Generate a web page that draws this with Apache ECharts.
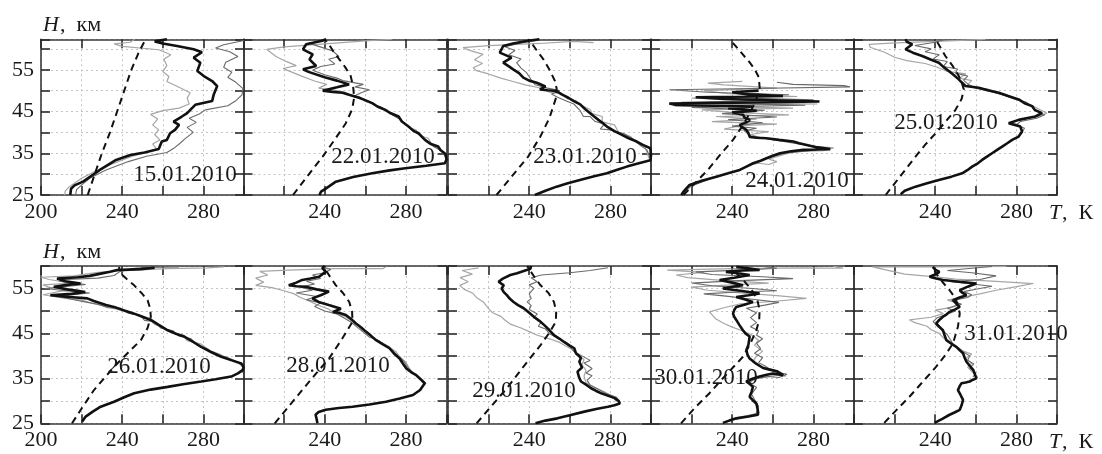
<!DOCTYPE html>
<html><head><meta charset="utf-8">
<script src="https://cdn.jsdelivr.net/npm/echarts@6/dist/echarts.min.js"></script>
<style>html,body{margin:0;padding:0;background:#fff}#c{width:1102px;height:454px}</style>
</head><body><div id="c"></div>
<script>
// ---------- data: [T (K), H (km)] ----------
const dates = ['15.01.2010','22.01.2010','23.01.2010','24.01.2010','25.01.2010','26.01.2010','28.01.2010','29.01.2010','30.01.2010','31.01.2010'];
const xTickLabels = [240, 280];
const xTickLabelsFirst = [200, 240, 280];
const yTickLabels = [25, 35, 45, 55];

// 15.01
const m15 = [[223,25],[226.5,30],[230,35],[234,40],[237.5,45],[241,50],[244.5,55],[248,59],[251.5,62.3]];
const b15 = [[214.4,25],[214.8,26.5],[216.5,27.3],[220.7,28.2],[229,31],[237,33.4],[244,34.6],[251,35.2],[258,36],[259.5,37.8],[262,38.2],[263.6,39.8],[266,40.6],[268,41.8],[265.3,42.6],[269.4,43.8],[272,44.6],[274.4,45.8],[276,46.6],[284.3,47.5],[285.1,49.1],[286.8,51.1],[284.3,52.3],[280.2,53.5],[277,54.7],[278.5,56.7],[275.2,57.9],[279.3,59.2],[275.2,59.9],[267,60.7],[260,61.3],[256,61.8],[262,62.3]];
const g15a = [[211.6,25],[212,26],[214,27],[220,29],[228,31],[236,32.6],[245,34.3],[252,35.2],[257,36],[255,37.2],[258.5,38.2],[256,39.5],[258,40.6],[255,41.8],[257.5,43.2],[254,44.3],[260,45.2],[268,45.8],[273,46.8],[272,48.2],[273.5,49.5],[268,50.8],[262,52.2],[263,53.4],[260,54.6],[262,56],[260.5,57.5],[264,58.6],[258,59.8],[240,60.6],[236,61.2],[244,61.6],[246,62.3]];
const g15b = [[217,25],[217.5,26.3],[219.5,27.2],[224,29],[232,31],[243,33],[252,34.3],[262,35.2],[266,36.4],[268.5,37.4],[271,38.5],[275,40],[272,41.2],[276.5,42.4],[273,43.4],[278,44.4],[281,45.4],[292,46.4],[296,47.6],[299,49],[299.5,50.5],[296,52],[292,53.2],[294,54.4],[290,55.6],[291,56.8],[297,58.2],[293,59.3],[286,60.2],[290,61],[300,62]];
// 22.01
const m22 = [[224.4,25],[231.5,29.5],[239,34.2],[245,38.3],[250.4,42.2],[253.5,45.5],[254.5,48.3],[254,51],[252.8,53.5],[250,55.7],[247.2,57.5],[244,59.6],[241.5,61.5],[240,62.3]];
const b22 = [[237.4,25],[238.2,25.8],[240.7,26.6],[245.5,28.2],[254,29.3],[263.4,30.2],[272,30.9],[279.7,31.4],[290,32],[299.2,32.6],[300,33.5],[299.5,34.8],[297,35.8],[295.9,36.6],[292,37.3],[289.4,38.2],[286.2,39.8],[284,40.3],[281.3,41.4],[278,42.6],[276.4,43.8],[272,44.7],[269.9,45.4],[266,46.2],[263.4,47],[259,47.9],[256.9,48.3],[252,49],[248.8,49.5],[244,49.7],[239,50],[246,50.8],[252,51.5],[246,52.4],[240,53.2],[232,54.5],[229.3,55.1],[235.8,55.9],[232.5,57.5],[234.1,58.7],[229.3,59.9],[230.9,61.1],[238.2,61.9],[240.7,62.3]];
const g22a = [[299,34.5],[296,36.4],[293,37],[291,38.6],[287,39.2],[285,40.6],[282,41],[279,42.4],[277,43.2],[273,44.4],[270,45.2],[267,45.8],[264,46.8],[260,47.4],[257,48.6],[253,48.8],[250,49.6],[244,50.2],[237,50.6],[241,51.5],[235,52.3],[228,53.6],[222,54.8],[219.5,55.3],[226,56],[221,57],[216,58.2],[211.4,59.9],[220,60.5],[240,61.2],[260,61.9],[273,62.3]];
const g22b = [[300,33.8],[297.5,35.6],[294,36.5],[290.5,37.8],[288,39],[283.5,40.4],[280,41.8],[277.5,43],[274,44],[271,45],[268,46],[265,46.4],[262,47.4],[258,48.2],[254,48.6],[258,49.5],[262,50.2],[255,50.9],[259,51.5],[249,52.4],[246,53],[240,53.8],[234,54.9],[238,55.8],[245,56.4],[242,57.5],[247,58.2],[244,59.5],[237,60.6],[232,61.4],[245,62.2]];
// 23.01
const m23 = [[223.9,25],[231.5,29.5],[239.5,34.2],[245.5,39],[250,43.5],[253.5,48.7],[253.5,50.5],[252.7,52.3],[250,55],[247,57.5],[243.5,59.8],[240.4,61.9],[239.5,62.3]];
const b23 = [[242.8,25],[248,26],[253.5,27],[259,27.8],[265,28.6],[272,29.5],[278.3,30.2],[283,31],[288.1,31.8],[294,32.6],[299.7,33.3],[300,34.5],[299.7,36.2],[296,37],[293,37.8],[289,38.6],[285.7,39.4],[282,40.3],[278.3,41.4],[276,42.3],[274.1,43],[272,43.8],[270,44.6],[267.5,45.6],[265.1,46.7],[262,47.5],[259.3,48.3],[256,49.1],[253.5,49.9],[249,50.1],[245.3,50.3],[248,51],[243.7,51.9],[240,52.4],[237.1,53.1],[235,54.2],[232.1,55.1],[230,55.8],[227.2,56.7],[231.3,57.9],[225.5,59.1],[227.2,60.7],[232,61.3],[238.7,61.9],[245,62.3]];
const g23a = [[299,33.8],[297,36.6],[293,37.5],[290,39],[284,40.1],[282,41.8],[276,42.5],[276,43.8],[271,44.5],[270,45.5],[266,46.4],[263,47.6],[259,48],[256,49.3],[250,49.6],[245,50.7],[238,51.4],[232,52.2],[226,53],[220,54],[214,54.8],[212.4,55.5],[217,56.5],[213,57.4],[217.3,58.7],[211,59.6],[207.4,60.3],[220,60.8],[245,61.3],[262,61.8],[271.7,61.5]];
const g23b = [[300,33.5],[298,35.8],[295,36.8],[291,38.4],[287,39.6],[280,40.6],[275,40.8],[277,42],[272.5,42.6],[270,43.8],[266.7,43.8],[265,45.3],[262,46.8],[258,47.6],[254,48.4],[251,49.2],[255,50],[249,50.6],[243,51.4],[241,52.6],[238.7,54.3],[236,55.4],[233.8,56.7],[236,57.6],[230,58.6],[233,59.6],[228,60.5],[236,61.4],[244,62]];
// 24.01
const m24 = [[216,25],[222,28],[228,31],[234,34.6],[240.4,38.2],[245,41.5],[248.7,44.6],[251.5,47.5],[253.6,50.3],[253.3,52],[252.8,53.5],[251,55.2],[248.7,56.7],[245,58.8],[241.5,60.8],[238.8,62.3]];
const b24 = [[214.9,25],[216,25.8],[219,27.4],[225,28.4],[232.2,29.4],[238,30.2],[243.7,31],[247,31.8],[250.3,32.6],[254,33.2],[256.9,33.8],[260,34.4],[263.5,35],[269,35.5],[275.1,35.8],[282,35.9],[288.3,36],[282,36.4],[276.7,37],[273,37.4],[270.1,37.8],[263,38.2],[256.9,38.6],[252,38.7],[248.7,38.9],[248,39.8],[247,40.6],[245,41.2],[243.7,41.8],[247,42.4],[248.7,43],[246,43.6],[245.4,44.2],[240,44.8],[252,45.2],[238,45.8],[250,46.2],[212,46.6],[209,46.9],[240,47.1],[283,47.4],[260,47.7],[236,48],[222,48.4],[265,48.7],[248,49.1],[240,49.6],[253,50]];
const g24a = [[216,25.3],[220,27.2],[230,29.2],[242,30.8],[249,32.2],[253,32.6],[258,32.3],[262,33],[258,33.6],[262,34.2],[270,35.4],[285,35.6],[290,36.3],[278,36.8],[268,38],[255,38.6],[249,39.5],[258,40.2],[236,40.8],[244,41.6],[262,42],[230,42.6],[252,43.2],[232,43.8],[268,44.2],[240,44.8],[225,45.4],[270,45.8],[211,46.4],[282,46.8],[228,47.2],[260,47.6],[220,48.2],[272,48.6],[238,49.3],[226,50],[262,50.6],[236,51.4],[228,51.8],[245,52.2]];
const g24b = [[215,25],[219,27],[230,29],[244,31],[250,32.5],[258,34],[266,35],[278,35.6],[286,36.2],[272,37.3],[258,38.4],[249,39.2],[246,40.4],[252,41],[240,41.5],[255,42.3],[238,43.1],[262,43.7],[235,44.5],[256,45.3],[220,46],[276,46.5],[215,47.2],[280,47.8],[230,48.4],[268,49],[228,49.6],[209,50.2],[250,50.5],[298,50.9],[295,51.2],[270,51.5],[262,52]];
// 25.01
const m25 = [[215.6,25],[222,29],[230.3,34.2],[235,37],[240.2,39.8],[245,42.5],[250,45.4],[253,48],[254.1,50.3],[253,52],[251.6,53.5],[248.5,56],[245,58.3],[242.5,60.4],[240.2,62.3]];
const b25 = [[223,25.2],[225,26],[230.3,27],[236,27.8],[241.8,28.6],[248,29.4],[253.3,30.2],[256,31],[258.2,31.8],[261,32.6],[263.1,33.4],[265.5,34.2],[268,35],[270.5,35.8],[273,36.6],[275.5,37.4],[277.9,38.2],[281.1,39],[282.8,40.2],[281.9,41.4],[276.2,42.2],[281.1,43],[289.3,43.8],[292.6,44.6],[289,45.4],[287.7,46.3],[284,47],[281.1,47.9],[276,48.7],[271.3,49.5],[266,50.1],[261.5,50.7],[254.9,51.1],[253,52],[251.6,52.7],[249,53.8],[246.7,54.7],[244,55.7],[241.8,56.7],[238,57.4],[233.6,58.3],[229,59.1],[225.4,59.9],[228.7,61.1],[226,61.7],[225.4,62.3]];
const g25a = [[283,40],[282,41.6],[278,42.4],[283,43.2],[291,43.8],[295,44.6],[291,45.6],[287,46.6],[282,47.6],[277,48.5],[272,49.2],[266,50.4],[258,50.8],[256,51.5],[258,52.4],[252,53],[255,54],[246,54.6],[241,55.6],[235,56.5],[226,57.2],[220,58],[215,59.2],[208,60.4],[207.4,61.1],[218,61.4],[240,61.8],[264.8,62.3]];
const g25b = [[282,39.5],[284,41],[280,41.8],[282,42.6],[290,43.4],[294,44.2],[290,45],[288,46],[285,47.2],[279,48],[273,49],[267,49.8],[260,50.6],[256,51.6],[254,52.5],[256,53.5],[250,54.2],[251,55.2],[244,55.8],[246,57],[239,57.6],[242,58.6],[235,59.3],[238,60],[230,60.8],[240,61.6],[245,62.3]];
// 26.01
const m26 = [[215.3,25],[220,28.3],[226.1,32.4],[232,35.5],[237.6,38.3],[243.5,41],[249.2,43.5],[252.5,46.2],[254.1,48.7],[253.8,50.5],[252.5,52.4],[249.5,54],[245.9,55.7],[242,57.2],[239.3,58.3],[238.4,59.8]];
const b26 = [[220.3,25.4],[222,26.5],[225.5,27.6],[229.4,28.7],[236,29.8],[241,30.8],[245.9,31.7],[254,32.5],[262.4,33.1],[270,33.7],[278.9,34.3],[286,34.8],[293.7,35.4],[297,36.1],[299.5,36.9],[299.8,37.6],[298.7,38.3],[294,39],[288.8,39.8],[284,40.8],[278.9,42],[274.6,43.2],[270.6,44.3],[266,45],[262.4,45.7],[258,46.9],[254.1,48],[250,48.7],[245.9,49.4],[241,50.1],[236,50.9],[232,51.3],[229.4,51.7],[226,52.2],[222.8,52.8],[214,53.1],[204.6,53.5],[215,53.8],[221.8,54.2],[213,54.8],[206.3,55.4],[213,55.8],[219.5,56.1],[212,56.6],[207.9,57.2],[218,57.5],[224,57.8],[229.4,58.3],[234,58.7],[237.6,59.1],[243,59.2],[249.2,59.3],[256,59.6]];
const g26a = [[298,36.4],[299.5,37.4],[297,38.6],[292,39.3],[288,40.4],[283,41.2],[279,42.6],[272,43.4],[270,44.6],[264,45.2],[261,46.2],[256,47],[253,48.2],[248,48.9],[244,49.8],[238,50.3],[232,51],[226,51.6],[220,52.4],[212,52.8],[201,53.6],[210,54.4],[219,54.6],[205,55.1],[201,55.8],[215,56.2],[204,57],[200,57.5],[216,57.8],[228,58.6],[246,59.1],[262,59.4],[282,59.6],[290,59.8]];
const g26b = [[299,36.2],[300,37.8],[296,38.8],[291,39.8],[286,40.2],[282,41.6],[277,42.4],[274,43.8],[268,44.4],[265,45.6],[259,46.2],[256,47.6],[251,47.9],[249,49],[243,49.5],[239,50.6],[233,50.7],[228,51.5],[223,51.9],[215,52.6],[208,53.3],[218,53.7],[224,54],[210,54.6],[202,55],[216,55.6],[222,55.9],[209,56.6],[212,57],[228,57.3],[236,57.9],[239,58.8],[246,59.5],[252,59.7],[268,59.8]];
// 28.01
const m28 = [[215.4,25],[222,28.6],[228.9,32.4],[236,36.2],[242.1,39.4],[248,43.4],[253.7,47.6],[253.5,49.8],[252.1,52],[249,54],[245.5,55.7],[242.8,57.5],[240.5,59.1],[240,59.9]];
const b28 = [[236.4,25],[236,26],[235.5,26.9],[237,27.5],[240.5,28],[247,28.4],[253.7,28.7],[262,29.2],[270.2,29.8],[277,30.5],[283.5,31.3],[287,32.4],[289.3,33.9],[287,34.9],[285.1,35.7],[282.5,36.4],[280.2,37.2],[278.5,38.3],[276.9,39.4],[274,40.6],[271.9,41.7],[268.5,42.6],[265.3,43.5],[263,44.4],[260.3,45.4],[258,46.3],[255.4,47.2],[253,48.2],[250.4,49.1],[247,49.6],[244,49.8],[248,50.5],[242,51.3],[237,52],[233.9,52.8],[238,53.5],[242.1,54.3],[236,54.8],[230.6,55.4],[226,55.5],[222.3,55.7],[226,56.3],[228.9,56.9],[233,57.2],[237.2,57.6],[240.5,58.7],[238.8,59.6],[240,60]];
const g28a = [[289,33.6],[287,35],[284,36],[282,37],[280,38.6],[277,39.8],[275,41],[271,42.2],[268,43],[264,44],[261,45],[258,46],[256,47],[253,47.9],[250,48.8],[245,49.5],[242,50.4],[237,51.2],[232,52.3],[228,53],[225,53.8],[220,54.5],[214,55.2],[206,55.7],[210,56.4],[206,57.3],[212,58],[208,58.8],[222,59.1],[245,59.4],[268.6,59.4],[270,59.8]];
const g28b = [[290,33.8],[286,35.3],[283.5,36.2],[281,37.4],[279,38.8],[276,40],[273,41.4],[270,42.2],[267,43.3],[262,44.2],[259,45.3],[256,46.4],[253,47.5],[250,48.3],[246,49.3],[240,50],[235,51],[238,51.8],[231,52.5],[236,53.2],[226,54],[234,54.6],[228,55.3],[235,56],[231,56.6],[238,57.2],[234,58],[240,58.5],[243,59.2],[238,60]];
// 29.01
const m29 = [[214.1,25],[221.5,28.9],[229,32.8],[237,37.5],[245.6,42.4],[250,45.2],[253.1,47.6],[253.3,49.8],[252.2,52],[249.5,54],[245.6,55.7],[242.5,57.6],[239.8,59.4],[239,60]];
const b29 = [[243.1,25],[248,25.6],[253.9,26.1],[260,26.8],[267.2,27.6],[273,28.2],[278.8,28.7],[282,29],[284.6,29.4],[284,30],[282.1,30.6],[279,31.1],[275.5,31.7],[273,32.2],[270.5,32.8],[268,33.6],[265.5,34.3],[264.5,35.3],[263.8,36.5],[266,37.4],[264.7,38.7],[265.5,39.6],[263,40.6],[262.2,41.7],[260,42.3],[257.2,43.1],[255,43.8],[252.2,44.6],[250,45.7],[247.3,46.9],[245,47.8],[242.3,48.7],[240,49.6],[237.3,50.6],[234.5,51.3],[232.3,52],[230.5,52.7],[229,53.5],[227.5,54.2],[226.4,55],[227.5,55.7],[224.9,56.5],[227,57.2],[230.7,58],[234,58.4],[237.3,58.9],[240.6,59.4],[241,60]];
const g29a = [[283,29.8],[281,31],[277,32],[272,33],[268,34],[267,35.5],[268,36.8],[266,38],[267,39.2],[264,40.2],[261,41.5],[258,42.2],[255,43],[250,43.8],[244,44.6],[240,45.4],[236,46.2],[231,47],[228,48],[226,48.8],[222,49.6],[220,50.5],[217.4,52],[214,53],[212,54],[208,54.8],[205.8,55.7],[210,56.5],[206,57.4],[212,58.2],[207,59],[215,59.6]];
const g29b = [[285,29.6],[283,30.8],[278,31.6],[274,32.6],[270,33.5],[268.5,34.6],[271,35.6],[268,36.2],[271,37.2],[267,38.4],[270,39],[266,40],[262,41],[260,42],[257,43],[254,44],[250,44.9],[248,46],[244.5,46.6],[246,47.6],[242,48.5],[244,49.3],[240,50.3],[241,51.2],[239,52],[241,52.8],[240,53.8],[242.3,55],[240,55.8],[243.9,56.5],[241,57.4],[246,58],[260,58.5],[270,59],[278.8,59.6]];
// 30.01
const m30 = [[214.8,25],[221.5,28.4],[228.8,31.7],[237,35.8],[245.3,39.8],[249,42.8],[251.9,45.7],[253.3,48],[253.5,50.2],[252.5,52.2],[250.2,54.3],[246,56.6],[242.5,58.2],[240.4,59.1],[239.8,60]];
const b30 = [[235.4,25.1],[238.5,25.6],[242,26.1],[248,26.5],[252.7,26.9],[252.5,28.2],[251.9,29.4],[250,30.2],[248.6,30.9],[249.5,32],[250.2,33.1],[248.5,33.8],[246.9,34.3],[250,34.9],[253.5,35.4],[257,35.8],[260.1,36.1],[265.1,35.7],[262,36.6],[258,37],[255.2,37.3],[252,38.2],[248.6,39.4],[247.5,40.3],[247,41.3],[248,42.5],[248.6,44.3],[246.5,45],[245.3,45.7],[243.5,46.9],[242,48],[241,48.7],[240.4,49.4],[241,50.2],[242,50.9],[246,51.4],[250.2,52],[246,52.6],[242,53.1],[248,53.5],[253.5,53.9],[244,54.5],[235.4,55],[240,55.4],[245.3,55.7],[240,56.3],[233.8,56.9],[241,57.4],[248.6,58],[243,58.4],[236.9,58.7],[245,59],[253.5,59.1],[248,59.5],[242,59.8]];
const g30a = [[236,25.2],[243,26.3],[253.5,27.3],[252,29],[249,31],[250.5,33],[247,34.5],[254,35.1],[262,35.7],[266.5,35.5],[261,36.8],[254,37.6],[250,38.6],[252,40],[255,41],[251,42.4],[253,43.5],[249,44.8],[245,45.6],[240,46.4],[236,47.2],[232,48.2],[228.8,49.8],[235,50.6],[244,51.6],[260,52.1],[276.6,52.8],[262,53.4],[244,54],[228,54.6],[220,55.3],[235,55.7],[258,56.2],[235,56.8],[218,57.4],[212.4,58],[226,58.6],[208,59.1],[240,59.4],[275,59.6],[294.7,59.5],[290,59.9]];
const g30b = [[237,25.3],[244,26.2],[252,27.2],[253,28.8],[251,30.3],[249.5,31.5],[252,33],[248,34],[252,35],[258,35.4],[263,35.2],[267,35.9],[260,36.6],[256,37.8],[253,38.5],[255,39.6],[251,40.6],[254,41.6],[252,42.8],[255,43.8],[252,44.6],[253,45.6],[249,46.5],[252,47.4],[249,48.5],[252,49.6],[247,50.6],[256,51.3],[263,51.9],[250,52.6],[237,53.3],[226,53.8],[243,54.2],[262,54.5],[250,55],[230,55.6],[220,56.2],[240,56.7],[270,57.2],[255,57.6],[230,58.1],[222,58.7],[250,59.2],[262,59.5],[255,59.9]];
// 31.01
const m31 = [[214.9,25.1],[221,28],[227.3,30.9],[234,34.3],[240.5,37.6],[245,40.2],[248.8,42.8],[251.2,46.5],[252.1,49.4],[251,51.5],[250,52.8],[247.1,54.6],[243.5,56.5],[240.5,58.3],[238.8,59.8]];
const b31 = [[239.7,25.1],[243.5,26],[247.1,26.9],[249.5,27.4],[252.1,28],[253,29],[253.7,30.2],[252.5,31.3],[251.2,32.4],[252,33.2],[252.9,33.9],[255,34.1],[257,34.3],[258.6,34.7],[260.3,35],[259.5,36],[258.7,36.9],[257,37.8],[255.4,38.7],[254.5,39.6],[253.7,40.6],[252,41.3],[250.4,42],[248,42.7],[245.5,43.5],[244.6,44.6],[243.8,45.7],[242,46.5],[240.5,47.2],[242,48],[243.8,48.7],[245.5,49.2],[247.1,49.8],[249.6,50.3],[252.1,50.9],[250.4,51.6],[248.8,52.4],[252,53],[255.4,53.5],[253.5,54],[252.1,54.6],[256,55.4],[260.3,56.1],[252,56.5],[243.8,56.9],[240.5,57.2],[237.2,57.6],[240,58.1],[242.1,58.7],[240,59.2],[238.8,59.8]];
const g31a = [[261,35.2],[258,36.5],[256,37.5],[258,38.4],[255,39.4],[258,40.4],[253,41.2],[249,42.4],[246,43.2],[244,44],[242,45],[238,45.8],[236,46.6],[230,47.4],[227.3,48],[238,48.6],[244,49.4],[240,50.2],[248,50.8],[252,51.6],[246,52.4],[255,53.2],[262,53.8],[270,54.6],[280,55.4],[288.4,56.1],[270,56.6],[250,57.1],[240,57.6],[225,58.2],[209.1,59.8],[240,59.8],[275,59.9]];
const g31b = [[258.6,35.3],[260,36.2],[257,37.3],[259,38.2],[256,39],[257,40],[254,40.8],[252,41.6],[249,42.5],[247.5,43.6],[246,44.7],[244,45.5],[241,46.6],[239,47.6],[241,48.5],[246,49.3],[250,50],[246,50.6],[253,51.5],[248,52.3],[256,53],[258,53.6],[254,54.3],[262,55],[268,55.5],[258,56],[248,56.5],[262,57],[270,57.8],[258,58.5],[246,59],[258,59.5],[268,59.9]];

const panels = [
  {model:m15, main:b15, g1:g15a, g2:g15b},
  {model:m22, main:b22, g1:g22a, g2:g22b},
  {model:m23, main:b23, g1:g23a, g2:g23b},
  {model:m24, main:b24, g1:g24a, g2:g24b},
  {model:m25, main:b25, g1:g25a, g2:g25b},
  {model:m26, main:b26, g1:g26a, g2:g26b},
  {model:m28, main:b28, g1:g28a, g2:g28b},
  {model:m29, main:b29, g1:g29a, g2:g29b},
  {model:m30, main:b30, g1:g30a, g2:g30b},
  {model:m31, main:b31, g1:g31a, g2:g31b}
];

// ---------- layout ----------
const FONT = "'Liberation Serif','Times New Roman',serif";
const LEFTS = [41, 243.5, 448, 651, 854];
const PW = 203;
const ROWS = [{top:39.3, height:155.7, max:62.3}, {top:266, height:157.3, max:60}];
const DATE_POS = [[185,175],[383,157],[585,157],[797,181],[946,123],[159,367],[338,366],[524,391],[706,378],[1016,334]];

const grid = [], xAxis = [], yAxis = [], series = [];
const axisLine = {show:true, lineStyle:{color:'#3a3a3a', width:1.6}};
const axisTick = {show:true, inside:true, length:9, lineStyle:{color:'#2a2a2a', width:1.6}};
const splitLine = {show:true, lineStyle:{color:'#c4c4c4', width:1, type:[2,3]}};

panels.forEach((p, i) => {
  const r = Math.floor(i/5), c = i%5;
  const row = ROWS[r];
  grid.push({left:LEFTS[c], top:row.top, width:PW, height:row.height, containLabel:false});
  const labs = c===0 ? xTickLabelsFirst : xTickLabels;
  xAxis.push({gridIndex:i, type:'value', min:200, max:300, interval:20, position:'bottom',
    axisLine, axisTick, splitLine,
    axisLabel:{show:true, margin:6, fontFamily:FONT, fontSize:22, color:'#1a1a1a',
      formatter:v => labs.includes(v) ? String(v) : ''}});
  xAxis.push({gridIndex:i, type:'value', min:200, max:300, interval:20, position:'top',
    axisLine, axisTick, splitLine:{show:false}, axisLabel:{show:false}});
  yAxis.push({gridIndex:i, type:'value', min:25, max:row.max, interval:5, position:'left',
    axisLine, axisTick, splitLine,
    axisLabel:{show:c===0, margin:7, fontFamily:FONT, fontSize:22, color:'#1a1a1a',
      formatter:v => yTickLabels.includes(v) ? String(v) : ''}});
  yAxis.push({gridIndex:i, type:'value', min:25, max:row.max, interval:5, position:'right',
    axisLine, axisTick, splitLine:{show:false}, axisLabel:{show:false}});
  const base = {type:'line', xAxisIndex:2*i, yAxisIndex:2*i, showSymbol:false, symbol:'none', silent:true, animation:false};
  series.push(Object.assign({}, base, {data:p.g1, lineStyle:{color:'#a6a6a6', width:1.2}}));
  series.push(Object.assign({}, base, {data:p.g2, lineStyle:{color:'#6a6a6a', width:1.1}}));
  series.push(Object.assign({}, base, {data:p.main, lineStyle:{color:'#111', width:2.6}}));
  series.push(Object.assign({}, base, {data:p.model, lineStyle:{color:'#111', width:2, type:[7,5]}}));
});

const graphic = [];
dates.forEach((d, i) => {
  graphic.push({type:'text', x:DATE_POS[i][0], y:DATE_POS[i][1], z:100,
    style:{text:d, font:"23px " + FONT, fill:'#1a1a1a', align:'center', verticalAlign:'middle'}});
});
[25, 252].forEach(yH => {
  graphic.push({type:'text', x:43, y:yH, style:{text:'H', font:"italic 22px " + FONT, fill:'#1a1a1a', align:'left', verticalAlign:'middle'}});
  graphic.push({type:'text', x:60, y:yH, style:{text:',  км', font:"22px " + FONT, fill:'#1a1a1a', align:'left', verticalAlign:'middle'}});
});
[213, 442].forEach(yT => {
  graphic.push({type:'text', x:1049, y:yT, style:{text:'T', font:"italic 22px " + FONT, fill:'#1a1a1a', align:'left', verticalAlign:'middle'}});
  graphic.push({type:'text', x:1062, y:yT, style:{text:',  К', font:"22px " + FONT, fill:'#1a1a1a', align:'left', verticalAlign:'middle'}});
});

const chart = echarts.init(document.getElementById('c'), null, {renderer:'canvas'});
chart.setOption({backgroundColor:'#fff', animation:false, grid, xAxis, yAxis, series, graphic});
</script>
</body></html>
